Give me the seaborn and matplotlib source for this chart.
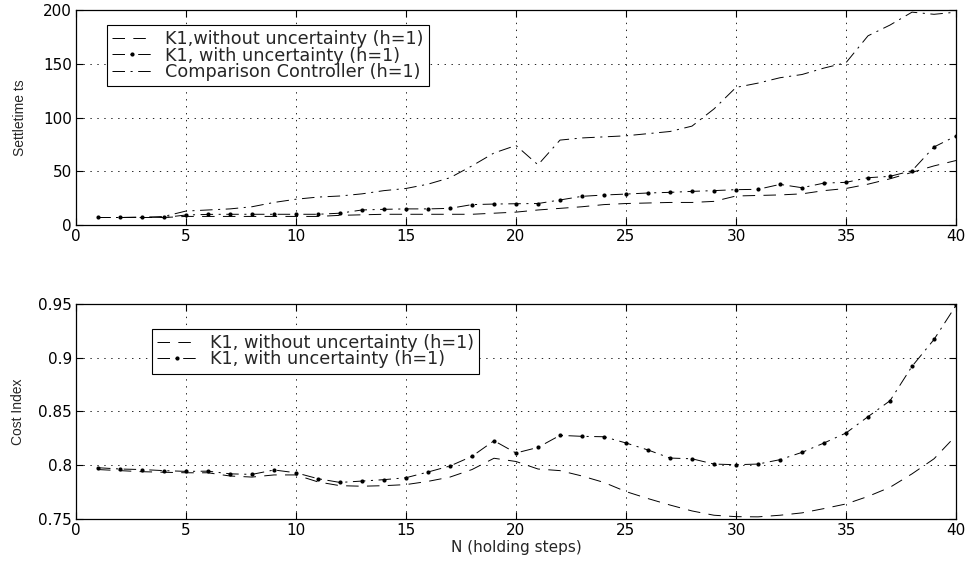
import numpy as np
import pandas as pd
import matplotlib
matplotlib.use("Agg")
import matplotlib.pyplot as plt
import seaborn as sns

# holding steps
n_steps = list(range(1, 41))

# settle time (top panel)
settle_without = [7, 7, 7, 7, 8, 8, 8, 8, 8, 8,
                  8, 9, 9.5, 10, 10, 10, 10, 10, 11, 12,
                  14, 15.5, 17, 19, 20, 20.5, 21, 21, 22, 27,
                  27.5, 28, 29, 32, 34, 38, 43, 49, 55, 60]
settle_with = [7, 7, 7.5, 7, 9.3, 9.9, 10, 10, 10, 10,
               10, 11, 14, 14.6, 15, 15, 15.5, 19, 19.5, 19.8,
               20, 23.3, 26.7, 27.9, 28.8, 29.8, 30.4, 31.3, 32, 32.9,
               33.2, 37.8, 34.7, 39, 39.7, 44, 45.3, 50.5, 72.6, 82.8]
settle_compare = [7, 7, 7, 8, 13, 14, 15, 17, 21, 24,
                  26, 27, 29, 32, 34, 38, 44, 55, 67, 74,
                  56, 79, 81, 82, 83, 85, 87, 92, 108, 128,
                  132, 137, 140, 146, 151, 176, 186, 198, 196, 198]

# cost index (bottom panel)
cost_without = [0.796, 0.795, 0.794, 0.7935, 0.793, 0.793, 0.790, 0.789, 0.791, 0.791,
                0.7845, 0.781, 0.7805, 0.781, 0.782, 0.785, 0.789, 0.796, 0.8065, 0.8035,
                0.7965, 0.795, 0.790, 0.784, 0.7755, 0.769, 0.763, 0.7575, 0.7535, 0.7522,
                0.752, 0.7535, 0.7557, 0.7597, 0.764, 0.771, 0.7795, 0.792, 0.806, 0.8276]
cost_with = [0.7977, 0.7965, 0.796, 0.795, 0.7943, 0.7945, 0.792, 0.7915, 0.7956, 0.793,
             0.7875, 0.784, 0.7853, 0.7866, 0.7884, 0.7937, 0.7993, 0.8083, 0.8228, 0.8114,
             0.8166, 0.8278, 0.8269, 0.8265, 0.8207, 0.8142, 0.8067, 0.806, 0.8011, 0.8005,
             0.8011, 0.8052, 0.812, 0.8207, 0.830, 0.8452, 0.860, 0.892, 0.917, 0.9487]

sns.set_style("ticks")
plt.rcParams["font.family"] = ["DejaVu Sans"]
plt.rcParams["lines.scale_dashes"] = False

DASH = (9, 6)
DASHDOT = (9, 4, 1.5, 4)
NARROW = ["Liberation Sans Narrow", "Liberation Sans", "DejaVu Sans"]

fig = plt.figure(figsize=(9.69, 5.62), dpi=100)
ax1 = fig.add_axes([0.0784, 0.5996, 0.9082, 0.3826])
ax2 = fig.add_axes([0.0784, 0.0765, 0.9082, 0.3826])

top = pd.DataFrame({"N": n_steps, "a": settle_without, "b": settle_with, "c": settle_compare})
bot = pd.DataFrame({"N": n_steps, "a": cost_without, "b": cost_with})

sns.lineplot(data=top, x="N", y="a", ax=ax1, color="black", lw=0.7,
             label="K1,without uncertainty (h=1)").lines[-1].set_dashes(DASH)
l = sns.lineplot(data=top, x="N", y="b", ax=ax1, color="black", lw=0.7, marker="o",
                 markersize=3, markeredgewidth=0, label="K1, with uncertainty (h=1)").lines[-1]
l.set_dashes(DASHDOT)
sns.lineplot(data=top, x="N", y="c", ax=ax1, color="black", lw=0.7,
             label="Comparison Controller (h=1)").lines[-1].set_dashes(DASHDOT)

sns.lineplot(data=bot, x="N", y="a", ax=ax2, color="black", lw=0.7,
             label="K1, without uncertainty (h=1)").lines[-1].set_dashes(DASH)
l = sns.lineplot(data=bot, x="N", y="b", ax=ax2, color="black", lw=0.7, marker="o",
                 markersize=3, markeredgewidth=0, label="K1, with uncertainty (h=1)").lines[-1]
l.set_dashes(DASHDOT)

ax1.set_xlim(0, 40)
ax1.set_ylim(0, 200)
ax1.set_yticks([0, 50, 100, 150, 200])
ax2.set_xlim(0, 40)
ax2.set_ylim(0.75, 0.95)
ax2.set_yticks([0.75, 0.8, 0.85, 0.9, 0.95])
ax2.set_yticklabels(["0.75", "0.8", "0.85", "0.9", "0.95"])

for ax in (ax1, ax2):
    ax.set_xticks(range(0, 41, 5))
    ax.grid(True, linestyle=(0, (1, 4)), color="black", lw=0.6)
    ax.tick_params(direction="in", length=5, width=0.8, labelsize=11,
                   top=True, right=True, pad=3, colors="black")
    for s in ax.spines.values():
        s.set_visible(True)
        s.set_linewidth(0.9)
        s.set_color("black")

ax1.set_xlabel("")
ax1.set_ylabel("Settletime ts", fontsize=10, family=NARROW)
ax1.yaxis.set_label_coords(-0.056, 0.5)
ax2.set_xlabel("N (holding steps)", fontsize=11, labelpad=1)
ax2.set_ylabel("Cost Index", fontsize=10, family=NARROW)
ax2.yaxis.set_label_coords(-0.058, 0.5)

legend_kw = dict(loc="upper left", fontsize=12.7, frameon=True, fancybox=False,
                 edgecolor="black", framealpha=1, handlelength=2.3, borderpad=0.3,
                 labelspacing=-0.1, handletextpad=0.7, borderaxespad=0)
leg1 = ax1.legend(bbox_to_anchor=(0.035, 0.93), **legend_kw)
leg1.get_frame().set_linewidth(0.8)
leg2 = ax2.legend(bbox_to_anchor=(0.086, 0.885), **legend_kw)
leg2.get_frame().set_linewidth(0.8)

fig.savefig("out.png", dpi=100)
